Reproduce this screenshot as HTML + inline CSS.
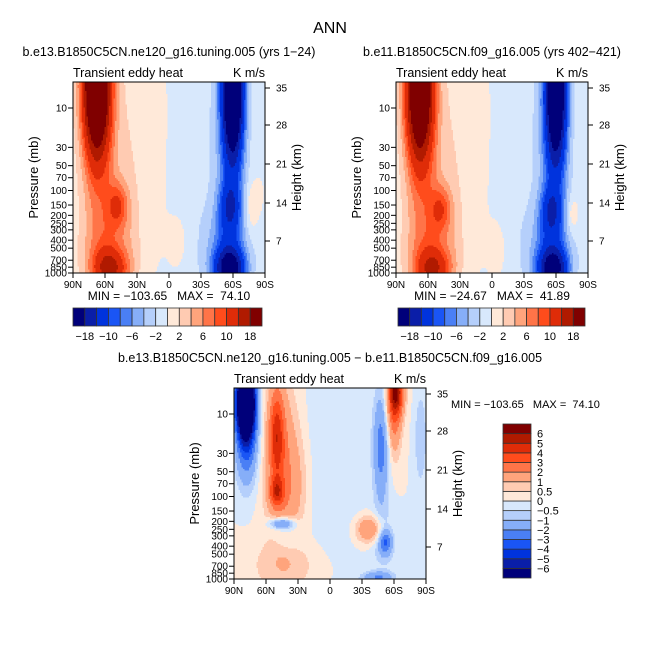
<!DOCTYPE html>
<html><head><meta charset="utf-8">
<style>
html,body{margin:0;padding:0;background:#fff;}
svg{display:block;font-family:"Liberation Sans","DejaVu Sans",sans-serif;}
text{fill:#000;white-space:pre;}
</style></head>
<body>
<svg id="chart" width="661" height="661" viewBox="0 0 661 661" xmlns="http://www.w3.org/2000/svg">
<rect x="0" y="0" width="661" height="661" fill="#fff"/>
<text x="330" y="33" font-size="16" text-anchor="middle">ANN</text>
<g id="panels"></g>
</svg>
<script>
// ---- data ----
const palette = ["#00007a","#0a1ea8","#0033dd","#1a55f5","#4a7ff5","#86aef8","#b5cffb","#d8e8fc","#ffe9d9","#ffcbb2","#ffa47c","#ff7448","#ff4c1c","#df2c08","#b01a00","#800000"];
const levelsTop = [-18,-14,-10,-8,-6,-4,-2,0,2,4,6,8,10,14,18];
const levelLabelsTop = ["-18","-10","-6","-2","2","6","10","18"];
const levelsDiff = [-6,-5,-4,-3,-2,-1,-0.5,0,0.5,1,2,3,4,5,6];
const levelLabelsDiff = ["-6","-5","-4","-3","-2","-1","-0.5","0","0.5","1","2","3","4","5","6"];
const pressureTicks = [10,30,50,70,100,150,200,250,300,400,500,700,850,1000];
const heightTicks = [7,14,21,28,35];
const heightTickY = [241,203,164,125,88];
const latTicks = [90,60,30,0,-30,-60,-90];
const latLabels = ["90N","60N","30N","0","30S","60S","90S"];
// blobs: [lat, log10(p), sigmaLat, sigmaLogP, amplitude]
const blobsA = [
 [68,0.7,9,0.62,30],[63,2.0,14,1.6,5],[48,2.18,7,0.2,7],[55,2.95,11,0.17,11],[55,2.7,17,0.35,3],
 [14,1.2,10,1.0,2.6],[-8,2.6,8,0.3,2],[35,2.2,8,1.3,1.5],
 [-60,0.75,7,0.6,-28],[-58,2.0,10,1.6,-6],[-57,2.2,7,0.2,-7],[-57,2.95,10,0.17,-16],[-52,2.7,14,0.35,-4],
 [-15,1.5,25,2.0,-1.6],[-78,2.2,5,0.2,3],[-85,2.6,5,0.3,-1]
];
const blobsB = [
 [68,0.75,9,0.62,27],[63,2.0,14,1.6,5],[48,2.22,7,0.2,6.5],[55,2.95,11,0.17,10],[55,2.7,17,0.35,3],
 [14,1.2,10,1.0,2.6],[-5,2.7,7,0.3,2],[35,2.2,8,1.3,1.5],
 [-60,0.8,7,0.6,-25],[-58,2.0,10,1.6,-6],[-55,2.25,7,0.2,-7],[-57,2.95,10,0.17,-15],[-52,2.7,14,0.35,-4],
 [-15,1.5,25,2.0,-1.6],[-75,2.3,4,0.15,3],[-85,2.6,5,0.3,-1]
];
const blobsDiff = [
 [79,0.85,6,0.3,-14],[78,1.4,7,0.35,-2.5],[50,1.25,5,0.4,3.5],[50,1.95,5,0.12,3],[45,1.6,12,0.7,1.8],[33,1.9,10,0.4,0.7],
 [45,2.33,8,0.05,-3],[40,2.5,10,0.12,-1],[-38,2.4,10,0.12,2.2],[-62,0.72,5,0.2,5],[-60,1.0,5,0.35,2.5],
 [-48,1.4,5,0.45,-2.5],[-52,2.55,4,0.1,-2.5],[-50,2.5,8,0.25,-1],[40,2.85,30,0.25,0.7],[-85,1.3,4,0.4,-1],
 [-5,1.5,20,1.2,-0.5],[-45,2.98,10,0.05,-2]
];
// ---- rendering ----
const NS="http://www.w3.org/2000/svg";
const root=document.getElementById('panels');
function el(tag,attrs,parent){const e=document.createElementNS(NS,tag);for(const k in attrs)e.setAttribute(k,attrs[k]);(parent||root).appendChild(e);return e;}
const PTOP=4.84;
function field(blobs,lat,lp){let v=0;for(const b of blobs){const dx=(lat-b[0])/b[2],dy=(lp-b[1])/b[3];v+=b[4]*Math.exp(-0.5*(dx*dx+dy*dy));}return v;}
function colorIdx(v,levels){let i=0;while(i<levels.length&&v>levels[i])i++;return i;}
function panel(name,x0,y0,blobs,levels){
  const w=192,h=191;
  const g=el('g',{});
  
  
  const xS=lat=>x0+(90-lat)/180*w;
  const lpTop=Math.log10(PTOP),lpBot=3;
  const yS=p=>y0+(Math.log10(p)-lpTop)/(lpBot-lpTop)*h;
  const step=1.5;
  for(let py=0;py<h;py+=step){
    const lp=lpTop+(py+step/2)/h*(lpBot-lpTop);
    let runStart=0,runC=-1;
    for(let px=0;px<=w+0.01;px+=step){
      let c=-2;
      if(px<w){const lat=90-(px+step/2)/w*180;c=colorIdx(field(blobs,lat,lp),levels);}
      if(c!==runC){
        if(runC>=0){const r=el('rect',{x:x0+runStart,y:y0+py,width:Math.min(px,w)-runStart+0.4,height:Math.min(step,h-py)+0.4,fill:palette[runC]},g);
          
          }
        runStart=px;runC=c;}
    }
  }
  el('rect',{x:x0,y:y0,width:w,height:h,fill:'none',stroke:'#000','stroke-width':1},g);
  pressureTicks.forEach(p=>{const y=yS(p);
    el('line',{x1:x0-5,x2:x0,y1:y,y2:y,stroke:'#000'},g);
    const t=el('text',{x:x0-6,y:y+3.5,'font-size':10,'text-anchor':'end'},g);t.textContent=p;
    
    });
  heightTicks.forEach((k,i)=>{const y=heightTickY[i]-82+y0;
    el('line',{x1:x0+w,x2:x0+w+5,y1:y,y2:y,stroke:'#000'},g);
    const t=el('text',{x:x0+w+11,y:y+3.5,'font-size':10},g);t.textContent=k;
    
    });
  latTicks.forEach((l,i)=>{const x=xS(l);
    el('line',{x1:x,x2:x,y1:y0+h,y2:y0+h+5,stroke:'#000'},g);
    const t=el('text',{x:x,y:y0+h+15,'font-size':10,'text-anchor':'middle'},g);t.textContent=latLabels[i];
    
    });
  let t=el('text',{x:x0,y:y0-5,'font-size':12.5},g);t.textContent='Transient eddy heat';
  
  t=el('text',{x:x0+w,y:y0-5,'font-size':12.5,'text-anchor':'end'},g);t.textContent='K m/s';
  
  t=el('text',{x:0,y:0,'font-size':13,'text-anchor':'middle',transform:`translate(${x0-35},${y0+h/2}) rotate(-90)`},g);t.textContent='Pressure (mb)';
  
  t=el('text',{x:0,y:0,'font-size':13,'text-anchor':'middle',transform:`translate(${x0+w+36},${y0+h/2}) rotate(-90)`},g);t.textContent='Height (km)';
  
}
function hbar(name,x0,y0,w,h,labels){
  const g=el('g',{});
  
  
  const n=palette.length,bw=w/n;
  palette.forEach((c,i)=>{const r=el('rect',{x:x0+i*bw,y:y0,width:bw,height:h,fill:c,stroke:'#333','stroke-width':0.8},g);
    });
  labels.forEach((l,i)=>{const t=el('text',{x:x0+(2*i+1)*bw,y:y0+h+14,'font-size':11,'text-anchor':'middle'},g);t.textContent=l.replace('-','\u2212');
    });
}
function vbar(name,x0,y0,w,h,labels){
  const g=el('g',{});
  
  
  const n=palette.length,bh=h/n;
  palette.forEach((c,i)=>{const r=el('rect',{x:x0,y:y0+(n-1-i)*bh,width:w,height:bh,fill:c,stroke:'#333','stroke-width':0.8},g);
    });
  labels.forEach((l,i)=>{const t=el('text',{x:x0+w+6,y:y0+(n-1-i)*bh+4,'font-size':11},g);t.textContent=l.replace('-','\u2212');
    });
}
function txt(name,x,y,s,size,anchor){const t=el('text',{x:x,y:y,'font-size':size,'text-anchor':anchor||'start'});t.textContent=s;
  }

panel('panel-ne120',73,82,blobsA,levelsTop);
panel('panel-f09',396,82,blobsB,levelsTop);
panel('panel-difference',234,388,blobsDiff,levelsDiff);
txt('left-panel-title',169,56,'b.e13.B1850C5CN.ne120_g16.tuning.005 (yrs 1\u221224)',12.5,'middle');
txt('right-panel-title',492,56,'b.e11.B1850C5CN.f09_g16.005 (yrs 402\u2212421)',12.5,'middle');
txt('diff-panel-title',330,362,'b.e13.B1850C5CN.ne120_g16.tuning.005 \u2212 b.e11.B1850C5CN.f09_g16.005',12.5,'middle');
txt('left-min-max',169,300,'MIN = \u2212103.65   MAX =  74.10',12,'middle');
txt('right-min-max',492,300,'MIN = \u221224.67   MAX =  41.89',12,'middle');
txt('diff-min-max',451,408,'MIN = \u2212103.65   MAX =  74.10',11,'start');
hbar('left-colorbar',73,308,189,18,levelLabelsTop);
hbar('right-colorbar',398,308,187,18,levelLabelsTop);
vbar('diff-colorbar',503,424,28,154,levelLabelsDiff);
</script>
</body></html>
